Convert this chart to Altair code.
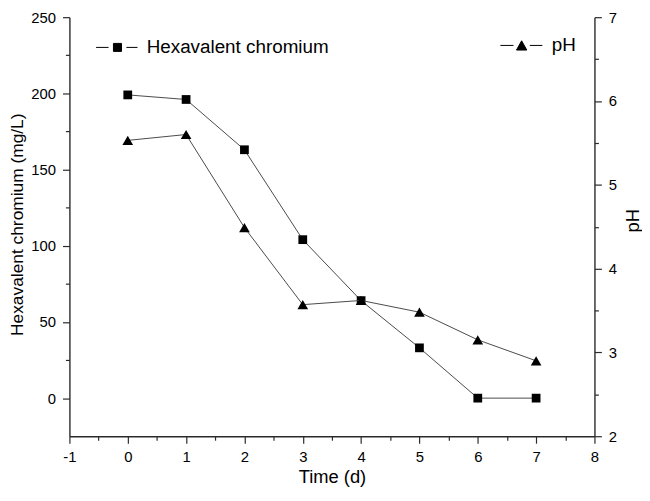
import altair as alt
import pandas as pd

# ---- data ----
time = [0, 1, 2, 3, 4, 5, 6, 7]
chromium = [199, 196, 163, 104, 64, 33, 0, 0]
ph = [5.53, 5.60, 4.49, 3.57, 3.62, 3.48, 3.15, 2.90]
series_cr = "Hexavalent chromium"
series_ph = "pH"

x_ticks = [v / 2 for v in range(-2, 17)]
cr_ticks = [v * 25 for v in range(0, 11)]
ph_ticks = [2 + v / 2 for v in range(0, 11)]

df_cr = pd.DataFrame({"time": time, "value": chromium, "series": series_cr})
df_ph = pd.DataFrame({"time": time, "value": ph, "series": series_ph})

FONT = "Liberation Sans"
AXC = "#2a2a2a"
LINEC = "#4a4a4a"
PLOT_H = 423


def tick_size(step):
    return {"condition": {"test": f"datum.value % {step} !== 0", "value": 4}, "value": 7}


common_axis = dict(
    domainColor=AXC, domainWidth=1.4, tickColor=AXC, tickWidth=1.2,
    labelFont=FONT, labelFontSize=15, labelColor="black", labelPadding=7,
    titleFont=FONT, titleFontWeight="normal", titleColor="black",
    grid=False, labelOverlap=False, labelFlush=False,
)

x_axis = alt.Axis(
    values=x_ticks, title="Time (d)", tickSize=tick_size(1),
    labelExpr="datum.value % 1 === 0 ? '' + datum.value : ''",
    titleX=265, titleY=47, titleBaseline="alphabetic", titleAnchor="middle", titleFontSize=18.5,
    **common_axis,
)
x_enc = alt.X("time:Q", scale=alt.Scale(domain=[-1, 8], nice=False, zero=False), axis=x_axis)

cr_axis = alt.Axis(
    values=cr_ticks, title="Hexavalent chromium (mg/L)", orient="left",
    tickSize=tick_size(50),
    labelExpr="datum.value % 50 === 0 ? '' + datum.value : ''",
    titleAngle=270, titleX=-47, titleY=209, titleBaseline="alphabetic", titleAlign="center",
    titleFontSize=17.5,
    **common_axis,
)
ph_axis = alt.Axis(
    values=ph_ticks, title="pH", orient="right",
    tickSize=tick_size(1),
    labelExpr="datum.value % 1 === 0 ? '' + datum.value : ''",
    titleAngle=270, titleX=44, titleY=205, titleBaseline="alphabetic", titleAlign="center",
    titleFontSize=18.5,
    **common_axis,
)

cr_y = alt.Y("value:Q", scale=alt.Scale(domain=[-25, 250], nice=False, zero=False), axis=cr_axis)
ph_y = alt.Y("value:Q", scale=alt.Scale(domain=[2, 7], nice=False, zero=False), axis=ph_axis)

HEX_SYMBOL = "M-4.8,0H-2M2,0H4.5M-0.9,-0.9H0.9V0.9H-0.9Z"
PH_SYMBOL = "M-3.9,0H-1.5M1.5,0H3.8M0,-0.85L0.95,0.85H-0.95Z"

legend_common = dict(
    orient="none", title=None, labelFont=FONT, labelFontSize=19, labelColor="black",
    labelLimit=400, symbolStrokeColor="black", symbolStrokeWidth=1, symbolFillColor="black",
    padding=0,
)

cr_line = alt.Chart(df_cr).mark_line(color=LINEC, strokeWidth=1).encode(x=x_enc, y=cr_y)
cr_pts = alt.Chart(df_cr).mark_point(filled=True, shape="square", size=78, opacity=1).encode(
    x=x_enc, y=cr_y,
    color=alt.Color("series:N", scale=alt.Scale(domain=[series_cr], range=["black"]),
                    legend=alt.Legend(legendX=39, legendY=21, symbolType=HEX_SYMBOL,
                                      symbolSize=81, labelOffset=20, **legend_common)),
)

ph_line = alt.Chart(df_ph).mark_line(color=LINEC, strokeWidth=1).encode(x=x_enc, y=ph_y)
ph_pts = alt.Chart(df_ph).mark_point(filled=True, shape="triangle-up", size=115, opacity=1).encode(
    x=x_enc, y=ph_y,
    color=alt.Color("series:N", scale=alt.Scale(domain=[series_ph], range=["black"]),
                    legend=alt.Legend(legendX=447, legendY=19, symbolType=PH_SYMBOL,
                                      symbolSize=121, labelOffset=21, **legend_common)),
)

left = alt.layer(cr_line, cr_pts)
right = alt.layer(ph_line, ph_pts)

chart = (
    alt.layer(left, right)
    .resolve_scale(y="independent", color="independent")
    .properties(
        width=530, height=PLOT_H,
        autosize=alt.AutoSizeParams(type="none"),
        padding={"left": 62, "top": 7, "right": 48, "bottom": 52},
        background="white",
    )
    .configure_view(stroke=None)
)

chart.save("out.html", embed_options={"renderer": "svg", "actions": False})
